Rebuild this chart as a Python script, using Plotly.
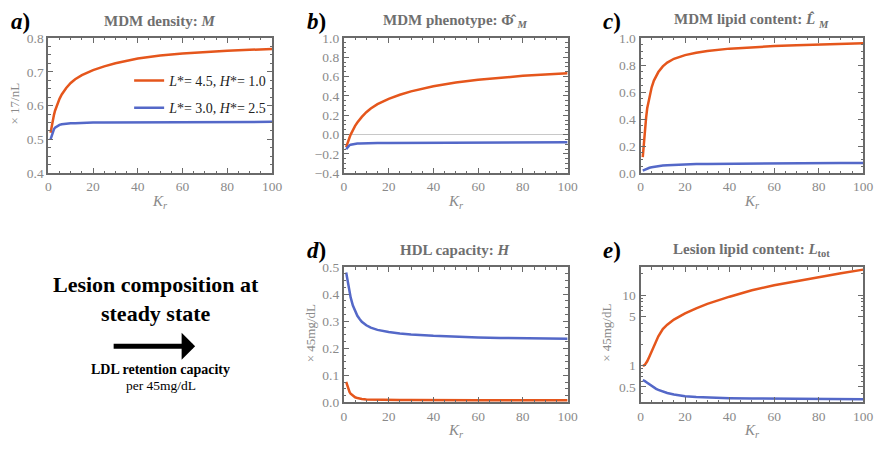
import plotly.graph_objects as go

W, H = 888, 452

K = [1, 1.5, 2, 2.5, 3, 4, 5, 6, 7, 8, 10, 12, 15, 20, 25, 30, 40, 50, 60, 70, 80, 90, 100]

a_orange = [0.52, 0.54, 0.556, 0.572, 0.585, 0.605, 0.62, 0.633, 0.643, 0.652, 0.667, 0.678, 0.69, 0.705, 0.716, 0.725, 0.739, 0.748, 0.754, 0.759, 0.762, 0.765, 0.767]
a_blue = [0.50, 0.513, 0.523, 0.53, 0.535, 0.54, 0.543, 0.545, 0.546, 0.547, 0.548, 0.548, 0.549, 0.55, 0.55, 0.55, 0.551, 0.551, 0.551, 0.552, 0.552, 0.552, 0.552]
b_orange = [-0.13, -0.09, -0.06, -0.03, 0.0, 0.05, 0.09, 0.125, 0.155, 0.183, 0.232, 0.27, 0.315, 0.37, 0.412, 0.447, 0.50, 0.538, 0.567, 0.59, 0.608, 0.623, 0.635]
b_blue = [-0.15, -0.135, -0.12, -0.11, -0.104, -0.098, -0.094, -0.092, -0.091, -0.09, -0.089, -0.088, -0.087, -0.086, -0.086, -0.085, -0.084, -0.083, -0.082, -0.082, -0.081, -0.081, -0.08]
c_orange = [0.12, 0.23, 0.33, 0.41, 0.48, 0.57, 0.635, 0.685, 0.72, 0.748, 0.79, 0.818, 0.846, 0.873, 0.891, 0.904, 0.921, 0.932, 0.94, 0.946, 0.952, 0.957, 0.961]
c_blue = [0.02, 0.024, 0.028, 0.032, 0.036, 0.041, 0.045, 0.048, 0.051, 0.053, 0.057, 0.06, 0.063, 0.066, 0.068, 0.069, 0.071, 0.073, 0.074, 0.075, 0.075, 0.076, 0.076]
d_orange = [0.076, 0.06, 0.048, 0.039, 0.032, 0.024, 0.019, 0.016, 0.014, 0.013, 0.011, 0.0105, 0.01, 0.009, 0.009, 0.009, 0.008, 0.008, 0.008, 0.008, 0.008, 0.008, 0.008]
d_blue = [0.48, 0.455, 0.43, 0.407, 0.388, 0.358, 0.337, 0.32, 0.308, 0.298, 0.285, 0.276, 0.268, 0.26, 0.255, 0.251, 0.246, 0.242, 0.24, 0.238, 0.237, 0.236, 0.235]
e_orange = [1.0, 1.0, 1.03, 1.08, 1.15, 1.35, 1.6, 1.9, 2.25, 2.6, 3.3, 3.8, 4.5, 5.5, 6.5, 7.5, 9.5, 11.7, 13.8, 15.8, 17.9, 20.4, 23.0]
e_blue = [0.62, 0.615, 0.6, 0.585, 0.57, 0.54, 0.512, 0.488, 0.468, 0.452, 0.427, 0.408, 0.388, 0.368, 0.358, 0.352, 0.345, 0.341, 0.338, 0.336, 0.335, 0.334, 0.333]

legend_names = ["<i>L</i>*= 4.5, <i>H</i>*= 1.0", "<i>L</i>*= 3.0, <i>H</i>*= 2.5"]
titles = ["MDM density: <i>M</i>", "MDM phenotype: Φ̂ <sub><i>M</i></sub>",
          "MDM lipid content: <i>L̂</i> <sub><i>M</i></sub>", "HDL capacity: <i>H</i>",
          "Lesion lipid content: <i>L</i><sub>tot</sub>"]
panel_labels = ["a", "b", "c", "d", "e"]
y_titles = ["× 17/nL", None, None, "× 45mg/dL", "× 45mg/dL"]
x_ticks = [0, 20, 40, 60, 80, 100]
e_ticks = [0.5, 1, 5, 10]

ORANGE = "#E5561C"
BLUE = "#5468C8"
FRAME = "#6a6a6a"
TICKC = "#8a8a8a"
SERIF = "Liberation Serif"

# panel boxes in pixels: (x0, x1, y0, y1)
boxes = [(46, 273, 32, 172), (346, 573, 32, 172), (647, 873, 32, 172),
         (346, 573, 269, 409), (647, 873, 269, 409)]
yranges = [[0.4, 0.8], [-0.4, 1.0], [0.0, 1.0], [0.0, 0.5], None]
ydt = [0.1, 0.2, 0.2, 0.1, None]
series = [(a_orange, a_blue), (b_orange, b_blue), (c_orange, c_blue),
          (d_orange, d_blue), (e_orange, e_blue)]

fig = go.Figure()
layout = dict(width=W, height=H, margin=dict(l=0, r=0, t=0, b=0), autosize=False,
              paper_bgcolor="white", plot_bgcolor="white", showlegend=True)

annotations = []
for i, (bx, yr, dt, (so, sb)) in enumerate(zip(boxes, yranges, ydt, series)):
    n = "" if i == 0 else str(i + 1)
    x0, x1, y0, y1 = bx
    common = dict(showline=True, linecolor=FRAME, linewidth=2, mirror="allticks",
                  ticks="inside", ticklen=5, tickcolor=FRAME, tickwidth=1,
                  showgrid=False, zeroline=False,
                  tickfont=dict(family=SERIF, size=13.5, color=TICKC))
    layout["xaxis" + n] = dict(common, domain=[x0 / W, x1 / W], anchor="y" + n,
                               range=[0, 100], tickvals=x_ticks,
                               minor=dict(ticklen=2.5, dtick=5, tick0=0, tickcolor=FRAME, ticks="inside"))
    if yr is not None:
        ya = dict(common, domain=[1 - y1 / H, 1 - y0 / H], anchor="x" + n,
                  range=yr, dtick=dt, tick0=0, tickformat=".1f",
                  minor=dict(ticklen=2.5, dtick=dt / 4, tick0=0, tickcolor=FRAME, ticks="inside"))
        if i == 1:
            ya["zeroline"] = True
            ya["zerolinecolor"] = "#c8c8c8"
            ya["zerolinewidth"] = 1
    else:
        ya = dict(common, domain=[1 - y1 / H, 1 - y0 / H], anchor="x" + n,
                  type="log", range=[-0.523, 1.398], tickvals=e_ticks,
                  ticktext=[str(v) for v in e_ticks],
                  minor=dict(ticklen=2.5, tickvals=[0.3, 0.4, 0.6, 0.7, 0.8, 0.9, 2, 3, 4, 6, 7, 8, 9, 20],
                             tickcolor=FRAME, ticks="inside"))
    layout["yaxis" + n] = ya

    for j, (vals, col) in enumerate(((so, ORANGE), (sb, BLUE))):
        fig.add_trace(go.Scatter(x=K, y=vals, mode="lines",
                                 line=dict(color=col, width=2.5, shape="linear"),
                                 name=legend_names[j], showlegend=(i == 0), legendgroup="g%d" % j,
                                 xaxis="x" + n, yaxis="y" + n, hoverinfo="skip"))

    cx = (x0 + x1) / 2
    ty = y0 - 18
    annotations.append(dict(text="<b>" + titles[i] + "</b>", x=cx / W, y=1 - ty / H, xref="paper", yref="paper",
                            showarrow=False, font=dict(family=SERIF, size=15, color="#6f6f6f"),
                            xanchor="center", yanchor="middle"))
    annotations.append(dict(text="<b><i>" + panel_labels[i] + "</i>)</b>", x=(x0 - 40) / W, y=1 - (y0 - 17) / H,
                            xref="paper", yref="paper", showarrow=False,
                            font=dict(family=SERIF, size=23, color="black"), xanchor="left", yanchor="middle"))
    annotations.append(dict(text="<i>K</i><sub><i>r</i></sub>", x=cx / W, y=1 - (y1 + 30) / H,
                            xref="paper", yref="paper", showarrow=False,
                            font=dict(family=SERIF, size=15, color=TICKC), xanchor="center", yanchor="middle"))
    if y_titles[i]:
        annotations.append(dict(text=y_titles[i], x=(x0 - 34) / W, y=1 - ((y0 + y1) / 2 - 2) / H,
                                xref="paper", yref="paper", showarrow=False, textangle=-90,
                                font=dict(family=SERIF, size=13, color=TICKC),
                                xanchor="center", yanchor="middle"))

# left-side text block
annotations.append(dict(text="<b>Lesion composition at<br>steady state</b>", x=155 / W, y=1 - 302 / H,
                        xref="paper", yref="paper", showarrow=False, align="center",
                        font=dict(family=SERIF, size=22, color="black"), xanchor="center", yanchor="middle"))
annotations.append(dict(text="", x=195 / W, y=1 - 351 / H, xref="paper", yref="paper",
                        ax=-83, ay=0, showarrow=True, arrowhead=1, arrowsize=0.9, arrowwidth=5,
                        arrowcolor="black"))
annotations.append(dict(text="<b>LDL retention capacity</b>", x=160 / W, y=1 - 375 / H,
                        xref="paper", yref="paper", showarrow=False,
                        font=dict(family=SERIF, size=14, color="black"), xanchor="center", yanchor="middle"))
annotations.append(dict(text="per 45mg/dL", x=160 / W, y=1 - 391 / H,
                        xref="paper", yref="paper", showarrow=False,
                        font=dict(family=SERIF, size=13.5, color="black"), xanchor="center", yanchor="middle"))

layout["annotations"] = annotations
layout["legend"] = dict(x=128 / W, y=1 - 60 / H, xanchor="left", yanchor="top",
                        bgcolor="rgba(0,0,0,0)", tracegroupgap=6,
                        font=dict(family=SERIF, size=14, color="#222"), itemwidth=30)
fig.update_layout(**layout)
fig.write_html("out.html")
